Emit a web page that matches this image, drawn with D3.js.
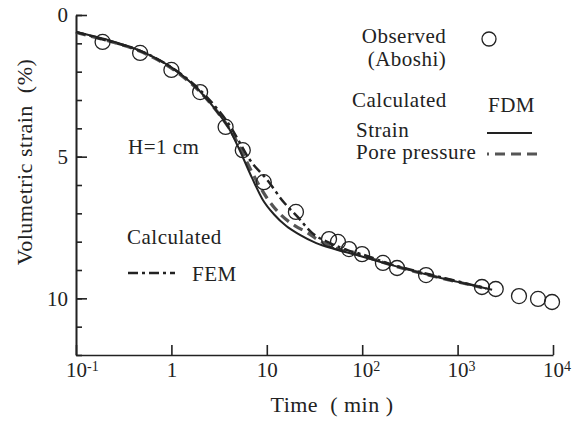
<!DOCTYPE html>
<html>
<head>
<meta charset="utf-8">
<script src="https://cdn.jsdelivr.net/npm/d3@7"></script>
<style>
  body { margin: 0; background: #fff; }
  text { font-family: "Liberation Serif", "Times New Roman", serif; fill: #222; white-space: pre; }
</style>
</head>
<body>
<div id="chart"></div>
<script>
// observed (Aboshi)
var obsTime = [0.19, 0.47, 1.0, 2.0, 3.7, 5.6, 9.3, 20.2, 44.9, 55.7, 72.7, 99.6, 165, 232, 467, 1800, 2510, 4400, 6970, 9770];
var obsStrain = [0.95, 1.34, 1.94, 2.72, 3.95, 4.77, 5.9, 6.95, 7.91, 8.01, 8.26, 8.44, 8.75, 8.93, 9.18, 9.60, 9.67, 9.92, 10.02, 10.13];

// calculated FDM, strain
var fdmTime = [0.1, 0.2, 0.5, 1, 2, 3, 4, 5, 7, 9, 12, 16, 22, 33, 50, 88, 200, 500, 1000, 2300];
var fdmStrain = [0.6, 0.85, 1.3, 1.85, 2.7, 3.4, 4.0, 4.65, 5.75, 6.5, 7.05, 7.45, 7.75, 8.05, 8.25, 8.47, 8.82, 9.18, 9.42, 9.7];

// calculated FDM, pore pressure
var poreTime = [0.1, 0.2, 0.5, 1, 2, 3, 4, 5, 7, 8.5, 10, 14, 20, 26, 35, 50, 100, 200, 500, 1000, 1800];
var poreStrain = [0.62, 0.88, 1.32, 1.88, 2.72, 3.4, 3.98, 4.55, 5.55, 6.07, 6.45, 7.05, 7.45, 7.66, 7.95, 8.2, 8.5, 8.82, 9.18, 9.42, 9.62];

// calculated FEM
var femTime = [0.1, 0.2, 0.5, 1, 2, 3, 4, 5, 6.6, 10, 15, 20.7, 30, 46, 70, 100, 200, 500, 1000, 2000];
var femStrain = [0.6, 0.88, 1.3, 1.85, 2.65, 3.3, 3.85, 4.4, 5.1, 5.8, 6.6, 7.1, 7.7, 8.05, 8.3, 8.45, 8.8, 9.15, 9.4, 9.65];

var xTicks = [0.1, 1, 10, 100, 1000, 10000];
var xTickBase = ["10", "1", "10", "10", "10", "10"];
var xTickExp = ["-1", "", "", "2", "3", "4"];
var yMajor = [0, 5, 10];
var yMinor = d3.range(0, 13);

var width = 582, height = 421;
var svg = d3.select("#chart").append("svg")
  .attr("width", width)
  .attr("height", height);

var x = d3.scaleLog().domain([0.1, 10000]).range([76, 553]);
var y = d3.scaleLinear().domain([0, 12]).range([15, 355]);

// y axis: minor ticks, then major ticks with labels
svg.append("g")
  .attr("transform", "translate(76,0)")
  .call(d3.axisLeft(y).tickValues(yMinor).tickSizeInner(-6).tickSizeOuter(0).tickFormat(""))
  .call(g => g.selectAll("line,path").attr("stroke", "#222").attr("stroke-width", 1.6));

svg.append("g")
  .attr("transform", "translate(76,0)")
  .call(d3.axisLeft(y).tickValues(yMajor).tickSizeInner(-11).tickSizeOuter(0).tickPadding(8))
  .call(g => g.selectAll("line,path").attr("stroke", "#222").attr("stroke-width", 1.6))
  .call(g => g.selectAll("text").attr("font-size", 21).attr("fill", "#222")
    .attr("font-family", "'Liberation Serif', 'Times New Roman', serif"));

// x axis
svg.append("g")
  .attr("transform", "translate(0,355)")
  .call(d3.axisBottom(x).tickValues(xTicks).tickSizeInner(-10).tickSizeOuter(0).tickPadding(7)
    .tickFormat((d, i) => xTickBase[i]))
  .call(g => g.selectAll("line,path").attr("stroke", "#222").attr("stroke-width", 1.6))
  .call(g => g.selectAll("text").attr("font-size", 21).attr("fill", "#222")
    .attr("font-family", "'Liberation Serif', 'Times New Roman', serif")
    .each(function (d, i) {
      if (xTickExp[i]) {
        d3.select(this).attr("text-anchor", "start").attr("dx", "-0.5em");
        d3.select(this).append("tspan")
          .attr("dy", "-0.45em")
          .attr("font-size", 14)
          .text(xTickExp[i]);
      }
    }));

// axis titles
svg.append("text")
  .attr("transform", "translate(32,162) rotate(-90)")
  .attr("text-anchor", "middle")
  .attr("font-size", 22)
  .attr("letter-spacing", 0.5)
  .text("Volumetric strain  (%)");

svg.append("text")
  .attr("x", 332)
  .attr("y", 412)
  .attr("text-anchor", "middle")
  .attr("font-size", 22)
  .attr("letter-spacing", 0.5)
  .text("Time  ( min )");

// curves
var line = (tt, vv) => d3.line().curve(d3.curveMonotoneX)(tt.map((t, i) => [x(t), y(vv[i])]));

svg.append("path")
  .attr("d", line(poreTime, poreStrain))
  .attr("fill", "none")
  .attr("stroke", "#555")
  .attr("stroke-width", 3.2)
  .attr("stroke-dasharray", "10,6");

svg.append("path")
  .attr("d", line(femTime, femStrain))
  .attr("fill", "none")
  .attr("stroke", "#222")
  .attr("stroke-width", 2.5)
  .attr("stroke-dasharray", "10,4,3,4");

svg.append("path")
  .attr("d", line(fdmTime, fdmStrain))
  .attr("fill", "none")
  .attr("stroke", "#222")
  .attr("stroke-width", 2);

// observed circles
svg.append("g")
  .selectAll("circle")
  .data(obsTime)
  .enter().append("circle")
  .attr("cx", d => x(d))
  .attr("cy", (d, i) => y(obsStrain[i]))
  .attr("r", 7.5)
  .attr("fill", "none")
  .attr("stroke", "#222")
  .attr("stroke-width", 1.3);

// annotations and legend
var note = (tx, ty, s, anchor) => svg.append("text")
  .attr("x", tx).attr("y", ty)
  .attr("text-anchor", anchor || "start")
  .attr("font-size", 21)
  .attr("letter-spacing", 0.5)
  .text(s);

note(128, 154, "H=1 cm");

note(404, 43, "Observed", "middle");
note(407, 66, "(Aboshi)", "middle");
svg.append("circle").attr("cx", 489).attr("cy", 39).attr("r", 7)
  .attr("fill", "none").attr("stroke", "#222").attr("stroke-width", 1.3);

note(352, 107, "Calculated");
note(488, 112, "FDM");
note(356, 137, "Strain");
note(356, 159, "Pore pressure");
svg.append("line").attr("x1", 487).attr("x2", 532).attr("y1", 133).attr("y2", 133)
  .attr("stroke", "#222").attr("stroke-width", 2);
svg.append("line").attr("x1", 487).attr("x2", 537).attr("y1", 154).attr("y2", 154)
  .attr("stroke", "#555").attr("stroke-width", 3.2)
  .attr("stroke-dasharray", "10,6").attr("stroke-dashoffset", 8);

note(127, 244, "Calculated");
note(192, 281, "FEM");
svg.append("line").attr("x1", 128).attr("x2", 175).attr("y1", 273).attr("y2", 273)
  .attr("stroke", "#222").attr("stroke-width", 2.5)
  .attr("stroke-dasharray", "10,4,3,4");
</script>
</body>
</html>
